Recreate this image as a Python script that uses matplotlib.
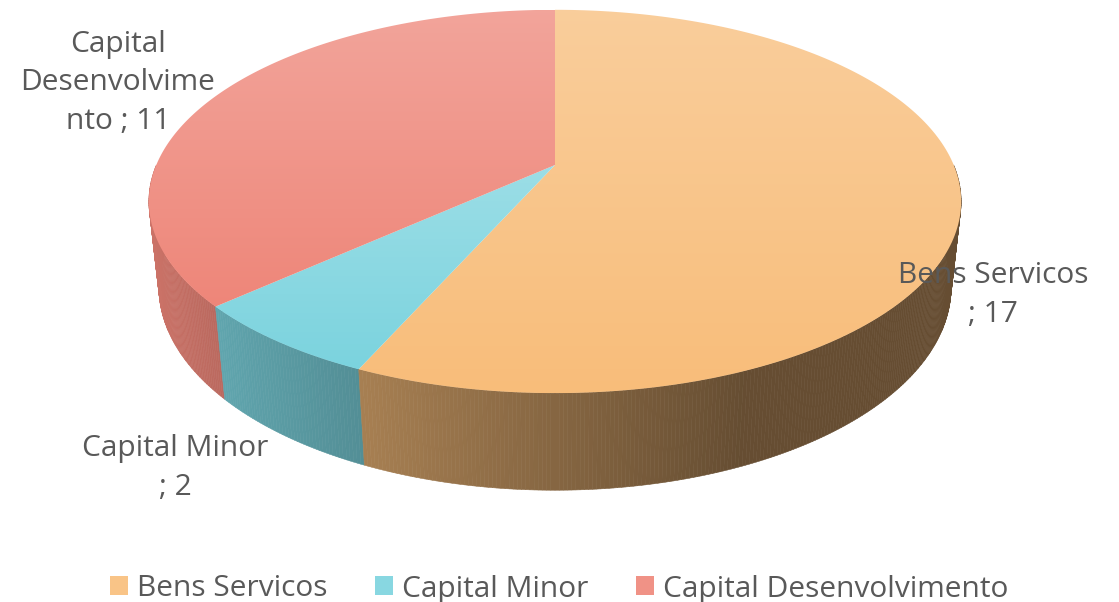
import numpy as np
import matplotlib.pyplot as plt
from matplotlib.patches import Polygon, Patch
from matplotlib.collections import PolyCollection
from matplotlib.colors import to_rgb

# Dados do gráfico
categorias = ["Bens Servicos", "Capital Minor", "Capital Desenvolvimento"]
valores = [17, 2, 11]
cores = ["#F8BD7A", "#7BD3DE", "#EE8679"]
rotulos = ["Bens Servicos\n; {}", "Capital Minor\n; {}", "Capital\nDesenvolvime\nnto ; {}"]
pos_rotulos = [(993, 295), (175, 468), (118, 83)]

plt.rcParams['font.family'] = ['Open Sans', 'DejaVu Sans']
cor_texto = "#595959"
tam_fonte = 21.5

# Câmera da pizza 3D (perspectiva)
cx, cy = 555, 165
F = 1858
dist = 4.66
elev = np.radians(27.6)
altura = 0.245


def projetar(u, w, z):
    se, ce = np.sin(elev), np.cos(elev)
    yc = w * se + z * ce
    zc = w * ce + dist - z * se
    return cx + F * u / zc, cy - F * yc / zc


def clarear(cor, f):
    c = np.array(to_rgb(cor))
    return c + (1 - c) * f


fig = plt.figure(figsize=(11.19, 6.02), dpi=100)
ax = fig.add_axes([0, 0, 1, 1])
ax.set_xlim(0, 1119)
ax.set_ylim(602, 0)
ax.axis('off')

total = sum(valores)
angulos = np.concatenate([[0], np.cumsum(valores) / total * 360])

# Paredes laterais (só a metade da frente)
quads, cores_quads, profund = [], [], []
for i in range(len(valores)):
    a0, a1 = max(angulos[i], 90), min(angulos[i + 1], 270)
    if a1 <= a0:
        continue
    n = max(int((a1 - a0) * 2), 2)
    t = np.radians(np.linspace(a0, a1, n + 1))
    for k in range(n):
        th = np.array([t[k], t[k + 1]])
        u, w = np.sin(th), np.cos(th)
        xs0, ys0 = projetar(u, w, 0)
        xs1, ys1 = projetar(u, w, -altura)
        quads.append([(xs0[0], ys0[0]), (xs0[1], ys0[1]), (xs1[1], ys1[1]), (xs1[0], ys1[0])])
        um = np.sin(th.mean())
        sombra = np.clip(0.54 - 0.33 * um, 0.41, 0.9)
        cores_quads.append(np.array(to_rgb(cores[i])) * sombra)
        profund.append(np.cos(th.mean()))

ordem = np.argsort(profund)[::-1]
ax.add_collection(PolyCollection([quads[k] for k in ordem],
                                 facecolors=[cores_quads[k] for k in ordem],
                                 edgecolors=[cores_quads[k] for k in ordem],
                                 linewidths=0.4, zorder=1))

# Faces superiores com degradê vertical
for i in range(len(valores)):
    t = np.radians(np.linspace(angulos[i], angulos[i + 1], 200))
    xs, ys = projetar(np.sin(t), np.cos(t), 0)
    xs = np.concatenate([[cx], xs])
    ys = np.concatenate([[cy], ys])
    fatia = Polygon(np.column_stack([xs, ys]), closed=True, facecolor='none',
                    edgecolor='none', zorder=2)
    ax.add_patch(fatia)
    topo = clarear(cores[i], 0.25)
    base = np.array(to_rgb(cores[i]))
    g = np.linspace(0, 1, 256)[:, None, None]
    img = topo * (1 - g) + base * g
    im = ax.imshow(img, extent=(xs.min(), xs.max(), ys.max(), ys.min()),
                   origin='upper', aspect='auto', interpolation='bilinear', zorder=2)
    im.set_clip_path(fatia)

ax.set_xlim(0, 1119)
ax.set_ylim(602, 0)

# Rótulos de dados
for i in range(len(valores)):
    ax.text(pos_rotulos[i][0], pos_rotulos[i][1], rotulos[i].format(valores[i]),
            ha='center', va='center', fontsize=tam_fonte, color=cor_texto,
            linespacing=1.42, zorder=5)

# Legenda
alcas = [Patch(facecolor=clarear(c, 0.1), edgecolor='none') for c in cores]
fig.legend(alcas, categorias, loc='center', bbox_to_anchor=(0.5, 13 / 602),
           ncol=3, frameon=False, fontsize=tam_fonte, labelcolor=cor_texto,
           handlelength=0.6, handleheight=0.6, handletextpad=0.3,
           columnspacing=1.6)

fig.savefig('out.png', dpi=100)
